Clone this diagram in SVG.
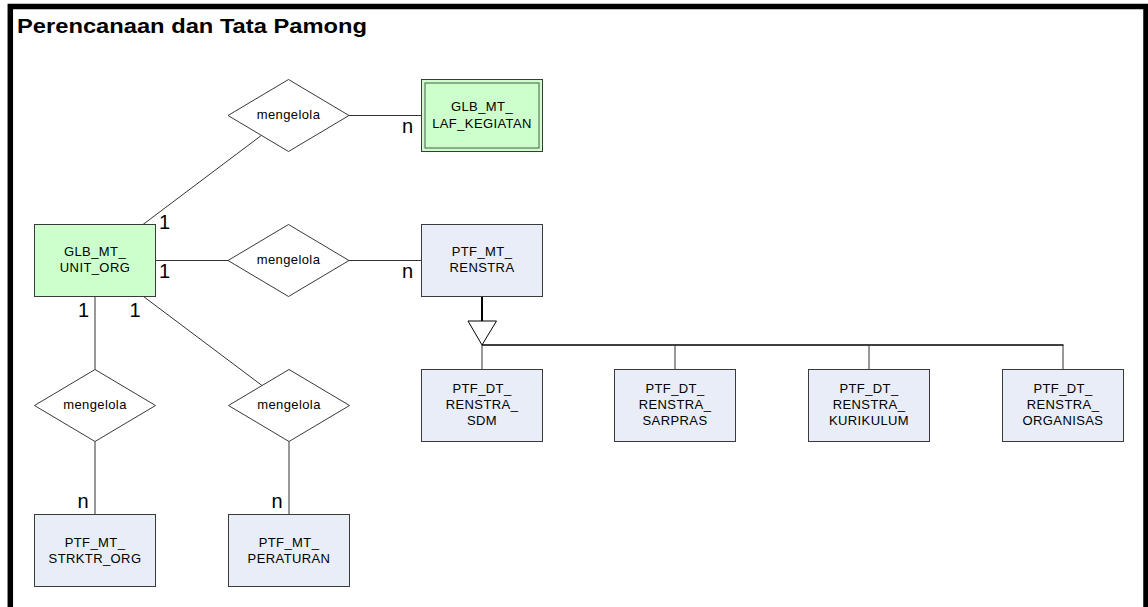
<svg xmlns="http://www.w3.org/2000/svg" width="1148" height="607" viewBox="0 0 1148 607">
<style>
.ent{stroke:#3a3a3a;stroke-width:1}
.green{fill:#ccffcc}
.blue{fill:#e8edf7}
.rel{fill:#ffffff;stroke:#3a3a3a;stroke-width:1}
.lbl{font-family:"Liberation Sans",Arial,sans-serif;font-size:13px;letter-spacing:0.4px;fill:#000;text-anchor:middle}
.card{font-family:"Liberation Sans",Arial,sans-serif;font-size:20px;fill:#000}
.ln{stroke:#333;stroke-width:1;fill:none}
</style>
<rect x="0" y="0" width="1148" height="607" fill="#ffffff"/>
<rect id="frame" x="10.3" y="6.5" width="1135.7" height="640" fill="none" stroke="#000" stroke-width="5.5"/>
<text x="17" y="33" font-family="'Liberation Sans',Arial,sans-serif" font-size="21" font-weight="bold" textLength="350" lengthAdjust="spacingAndGlyphs">Perencanaan dan Tata Pamong</text>

<g id="connectors">
<line class="ln" x1="143" y1="224.5" x2="261" y2="135.7"/>
<line class="ln" x1="348.5" y1="115.5" x2="421.5" y2="115.5"/>
<line class="ln" x1="155.5" y1="260.5" x2="228" y2="260.5"/>
<line class="ln" x1="349" y1="260.5" x2="421.5" y2="260.5"/>
<line class="ln" x1="95" y1="296.5" x2="95" y2="369.5"/>
<line class="ln" x1="95" y1="441.5" x2="95" y2="514.5"/>
<line class="ln" x1="143.5" y1="296.5" x2="262" y2="385.5"/>
<line class="ln" x1="289" y1="441.5" x2="289" y2="514.5"/>
<line x1="482" y1="296.5" x2="482" y2="321" stroke="#000" stroke-width="2"/>
<polygon points="468,321 496.5,321 482,345" fill="#ffffff" stroke="#000" stroke-width="1"/>
<line x1="482" y1="345" x2="1063.5" y2="345" stroke="#000" stroke-width="1.3"/>
<line class="ln" x1="482" y1="345" x2="482" y2="369.5"/>
<line class="ln" x1="675" y1="345" x2="675" y2="369.5"/>
<line class="ln" x1="869" y1="345" x2="869" y2="369.5"/>
<line class="ln" x1="1063" y1="345" x2="1063" y2="369.5"/>
<text class="card" x="159" y="229">1</text>
<text class="card" x="159" y="278">1</text>
<text class="card" x="78" y="317">1</text>
<text class="card" x="129.5" y="317">1</text>
<text class="card" x="402" y="133">n</text>
<text class="card" x="402" y="278">n</text>
<text class="card" x="77.5" y="508">n</text>
<text class="card" x="271.5" y="508">n</text>
</g>

<g id="laf_kegiatan">
<rect class="ent green" x="421.5" y="79.5" width="121" height="72"/>
<rect x="425" y="83" width="114" height="65" fill="none" stroke="#4a5a4a" stroke-width="1"/>
<text class="lbl" x="482" y="111">GLB_MT_</text>
<text class="lbl" x="482" y="128">LAF_KEGIATAN</text>
</g>

<g id="rel_mengelola_1">
<polygon class="rel" points="288.5,79.5 349,115.5 288.5,151.5 228,115.5"/>
<text class="lbl" x="288.5" y="119">mengelola</text>
</g>

<g id="unit_org">
<rect class="ent green" x="34.5" y="224.5" width="121" height="72"/>
<text class="lbl" x="95" y="256">GLB_MT_</text>
<text class="lbl" x="95" y="272">UNIT_ORG</text>
</g>

<g id="rel_mengelola_2">
<polygon class="rel" points="288.5,224.5 349,260.5 288.5,296.5 228,260.5"/>
<text class="lbl" x="288.5" y="264">mengelola</text>
</g>

<g id="renstra">
<rect class="ent blue" x="421.5" y="224.5" width="121" height="72"/>
<text class="lbl" x="482" y="256">PTF_MT_</text>
<text class="lbl" x="482" y="272">RENSTRA</text>
</g>

<g id="rel_mengelola_3">
<polygon class="rel" points="95,369.5 155.5,405.5 95,441.5 34.5,405.5"/>
<text class="lbl" x="95" y="409">mengelola</text>
</g>

<g id="rel_mengelola_4">
<polygon class="rel" points="289,369.5 349.5,405.5 289,441.5 228.5,405.5"/>
<text class="lbl" x="289" y="409">mengelola</text>
</g>

<g id="strktr_org">
<rect class="ent blue" x="34.5" y="514.5" width="121" height="72"/>
<text class="lbl" x="95" y="547">PTF_MT_</text>
<text class="lbl" x="95" y="563">STRKTR_ORG</text>
</g>

<g id="peraturan">
<rect class="ent blue" x="228.5" y="514.5" width="121" height="72"/>
<text class="lbl" x="289" y="547">PTF_MT_</text>
<text class="lbl" x="289" y="563">PERATURAN</text>
</g>

<g id="renstra_sdm">
<rect class="ent blue" x="421.5" y="369.5" width="121" height="72"/>
<text class="lbl" x="482" y="393">PTF_DT_</text>
<text class="lbl" x="482" y="409">RENSTRA_</text>
<text class="lbl" x="482" y="425">SDM</text>
</g>

<g id="renstra_sarpras">
<rect class="ent blue" x="614.5" y="369.5" width="121" height="72"/>
<text class="lbl" x="675" y="393">PTF_DT_</text>
<text class="lbl" x="675" y="409">RENSTRA_</text>
<text class="lbl" x="675" y="425">SARPRAS</text>
</g>

<g id="renstra_kurikulum">
<rect class="ent blue" x="808.5" y="369.5" width="121" height="72"/>
<text class="lbl" x="869" y="393">PTF_DT_</text>
<text class="lbl" x="869" y="409">RENSTRA_</text>
<text class="lbl" x="869" y="425">KURIKULUM</text>
</g>

<g id="renstra_organisasi">
<rect class="ent blue" x="1002.5" y="369.5" width="121" height="72"/>
<text class="lbl" x="1063" y="393">PTF_DT_</text>
<text class="lbl" x="1063" y="409">RENSTRA_</text>
<text class="lbl" x="1063" y="425">ORGANISAS</text>
</g>
</svg>
